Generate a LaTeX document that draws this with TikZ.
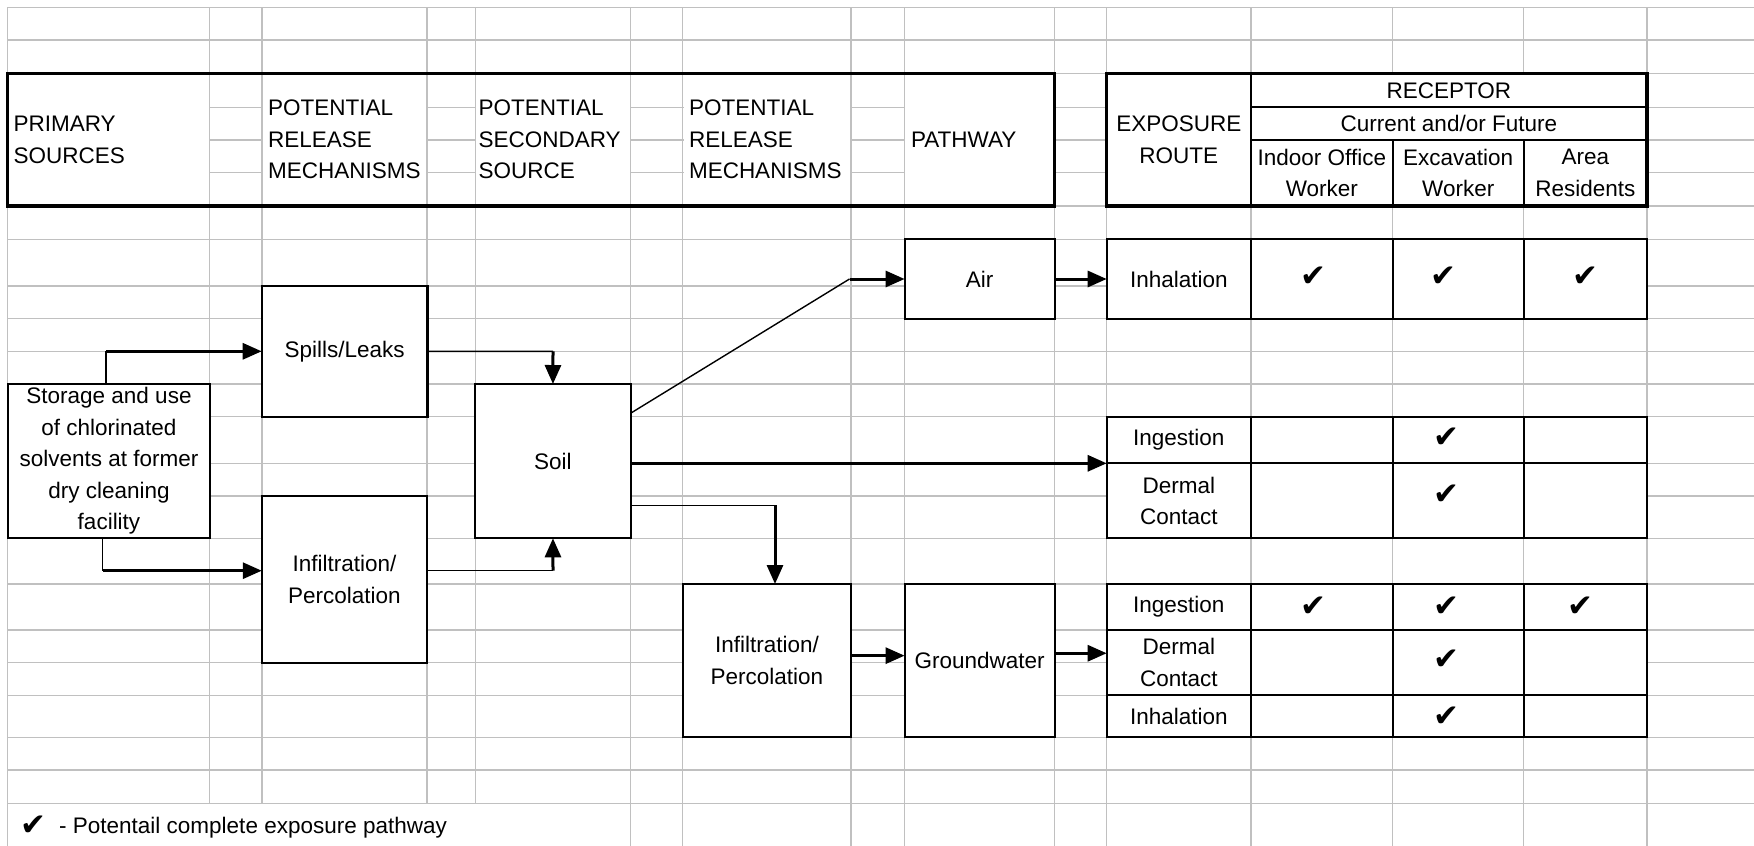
\documentclass[tikz,border=0pt]{standalone}
\usepackage{fontspec}
\setmainfont{Liberation Sans}
\newfontfamily\chkfamily{DejaVu Sans}
\usetikzlibrary{arrows.meta}
\definecolor{gridgray}{HTML}{C0C0C0}
\newcommand\dtxt{\fontsize{22.5}{31.5}\selectfont}
\newcommand\chkfont{\chkfamily\fontsize{31}{31}\selectfont}
\newcommand\mkbox[7]{%
  \pgfmathsetmacro\cellW{#5-#3}\pgfmathsetmacro\cellH{#6-#4}%
  \pgfmathsetmacro\cellX{(#3+#5)/2}\pgfmathsetmacro\cellY{(#4+#6)/2}%
  \node[#1, minimum width=\cellW pt, minimum height=\cellH pt] (#2) at (\cellX,\cellY) {#7};}
\tikzset{
  gridline/.style={draw=gridgray, line width=1.5pt},
  fbox/.style={draw, fill=white, line width=2.2pt, inner sep=0pt, outer sep=0pt, align=center, font=\dtxt},
  cell/.style={draw, fill=white, line width=2pt, inner sep=0pt, outer sep=0pt, align=center, font=\dtxt},
  hdr/.style={inner sep=0pt, align=left, anchor=west, font=\dtxt},
  thinline/.style={line width=1.4pt},
  flowarrow/.style={line width=3pt, -{Triangle[length=19pt,width=16pt]}},
  chk/.style={font=\chkfont, inner sep=0pt},
  hdrbox/.style={line width=3.3pt}
}
\begin{document}
\begin{tikzpicture}[x=1pt,y=-1pt]
\useasboundingbox (0,0) rectangle (1754,846);
\fill[white] (0,0) rectangle (1754,846);
% spreadsheet grid
\foreach \gx in {7.7,209.7,261.8,427.1,475.3,630.6,682.7,851.1,904.6,1054.6,1106.7,1250.9,1392.7,1523.7,1646.9}
  \draw[gridline] (\gx,7.3) -- (\gx,846);
\foreach \gy in {7.3,40,73.3,107.3,140,172.7,206,239.3,286,318.7,351.3,384,416.7,463.3,496,538.3,584,630,662.7,695.3,737.3,770,803.3}
  \draw[gridline] (7.7,\gy) -- (1754,\gy);
% merged header cells
\foreach \ax/\bx in {7.7/209.7,261.8/427.1,475.3/630.6,682.7/851.1,904.6/1054.6}
  \fill[white] (\ax+0.8,74) rectangle (\bx-0.8,205.3);
% merged legend cell
\fill[white] (8.5,804.1) rectangle (629.8,846);
% header box 1
\draw[hdrbox] (7.7,73.3) rectangle (1054.6,206);
\node[hdr] (hPS) at (13.4,139.7) {PRIMARY\\SOURCES};
\node[hdr] (hPR1) at (268,139.7) {POTENTIAL\\RELEASE\\MECHANISMS};
\node[hdr] (hPSS) at (478.4,139.7) {POTENTIAL\\SECONDARY\\SOURCE};
\node[hdr] (hPR2) at (688.8,139.7) {POTENTIAL\\RELEASE\\MECHANISMS};
\node[hdr] (hPW) at (910.8,139.7) {PATHWAY};
% header box 2
\mkbox{cell}{expo}{1106.7}{73.3}{1250.9}{206}{EXPOSURE\\ROUTE}
\mkbox{cell}{recep}{1250.9}{73.3}{1646.9}{107.3}{RECEPTOR}
\mkbox{cell}{curr}{1250.9}{107.3}{1646.9}{140}{Current and/or Future}
\mkbox{cell}{indoor}{1250.9}{140}{1392.7}{206}{Indoor Office\\Worker}
\mkbox{cell}{excav}{1392.7}{140}{1523.7}{206}{Excavation\\Worker}
\mkbox{cell}{area}{1523.7}{140}{1646.9}{206}{Area\\Residents}
\draw[hdrbox] (1106.7,73.3) rectangle (1646.9,206);
% flow boxes
\mkbox{fbox}{storage}{8}{384}{210}{538.3}{Storage and use\\of chlorinated\\solvents at former\\dry cleaning\\facility}
\mkbox{fbox}{spills}{261.7}{286}{427.5}{416.7}{Spills/Leaks}
\mkbox{fbox}{infil1}{261.8}{496}{427.1}{662.7}{Infiltration/\\Percolation}
\mkbox{fbox}{soil}{475.3}{384}{630.6}{538.3}{Soil}
\mkbox{fbox}{air}{904.6}{239.3}{1054.6}{318.7}{Air}
\mkbox{fbox}{infil2}{682.7}{584}{851.1}{737.3}{Infiltration/\\Percolation}
\mkbox{fbox}{gw}{904.6}{584}{1054.6}{737.3}{Groundwater}
% exposure tables
\mkbox{cell}{inh}{1106.7}{239.3}{1250.9}{318.7}{Inhalation}
\mkbox{cell}{inhB}{1250.9}{239.3}{1392.7}{318.7}{}
\mkbox{cell}{inhC}{1392.7}{239.3}{1523.7}{318.7}{}
\mkbox{cell}{inhD}{1523.7}{239.3}{1646.9}{318.7}{}
\mkbox{cell}{ing1}{1106.7}{416.7}{1250.9}{463.3}{Ingestion}
\mkbox{cell}{ing1B}{1250.9}{416.7}{1392.7}{463.3}{}
\mkbox{cell}{ing1C}{1392.7}{416.7}{1523.7}{463.3}{}
\mkbox{cell}{ing1D}{1523.7}{416.7}{1646.9}{463.3}{}
\mkbox{cell}{der1}{1106.7}{463.3}{1250.9}{538.3}{Dermal\\Contact}
\mkbox{cell}{der1B}{1250.9}{463.3}{1392.7}{538.3}{}
\mkbox{cell}{der1C}{1392.7}{463.3}{1523.7}{538.3}{}
\mkbox{cell}{der1D}{1523.7}{463.3}{1646.9}{538.3}{}
\mkbox{cell}{ing2}{1106.7}{584}{1250.9}{630}{Ingestion}
\mkbox{cell}{ing2B}{1250.9}{584}{1392.7}{630}{}
\mkbox{cell}{ing2C}{1392.7}{584}{1523.7}{630}{}
\mkbox{cell}{ing2D}{1523.7}{584}{1646.9}{630}{}
\mkbox{cell}{der2}{1106.7}{630}{1250.9}{695.3}{Dermal\\Contact}
\mkbox{cell}{der2B}{1250.9}{630}{1392.7}{695.3}{}
\mkbox{cell}{der2C}{1392.7}{630}{1523.7}{695.3}{}
\mkbox{cell}{der2D}{1523.7}{630}{1646.9}{695.3}{}
\mkbox{cell}{inh2}{1106.7}{695.3}{1250.9}{737.3}{Inhalation}
\mkbox{cell}{inh2B}{1250.9}{695.3}{1392.7}{737.3}{}
\mkbox{cell}{inh2C}{1392.7}{695.3}{1523.7}{737.3}{}
\mkbox{cell}{inh2D}{1523.7}{695.3}{1646.9}{737.3}{}
% check marks
\node[chk] (k1) at (1313,277) {✔};
\node[chk] (k2) at (1443,277) {✔};
\node[chk] (k3) at (1585,277) {✔};
\node[chk] (k4) at (1446,438) {✔};
\node[chk] (k5) at (1446,495) {✔};
\node[chk] (k6) at (1313,607) {✔};
\node[chk] (k7) at (1446,607) {✔};
\node[chk] (k8) at (1580,607) {✔};
\node[chk] (k9) at (1446,660) {✔};
\node[chk] (k10) at (1446,717) {✔};
% connectors
\coordinate (b1) at (106,351.3);
\draw[thinline] (storage.north -| b1) -- (b1);
\draw[flowarrow] (b1) -- (b1 -| spills.west);
\coordinate (b2) at (102.7,570.7);
\draw[thinline] (storage.south -| b2) -- (b2);
\draw[flowarrow] (b2) -- (b2 -| infil1.west);
\coordinate (b3) at (553,351.3);
\draw[thinline] (spills.east) -- (b3);
\draw[flowarrow] (b3) -- (soil.north);
\coordinate (b4) at (553,570.7);
\draw[thinline] (b4 -| infil1.east) -- (b4);
\draw[flowarrow] (b4) -- (soil.south);
\coordinate (s5) at ([yshift=47.9pt]soil.east);
\coordinate (b5) at (849.5,279);
\draw[thinline] (s5) -- (b5);
\draw[flowarrow] (b5) -- (b5 -| air.west);
\draw[flowarrow] (air.east) -- (inh.west);
\draw[flowarrow] (soil.east |- ing1.south west) -- (ing1.south west);
\coordinate (b6) at (775,505.3);
\draw[thinline] (b6 -| soil.east) -- (b6);
\draw[flowarrow] (b6) -- (b6 |- infil2.north);
\coordinate (s7) at ([yshift=5pt]infil2.east);
\draw[flowarrow] (s7) -- (s7 -| gw.west);
\coordinate (s8) at ([yshift=7.4pt]gw.east);
\draw[flowarrow] (s8) -- (s8 -| der2.west);
% legend
\node[chk] (lgk) at (33.6,826) {✔};
\node[anchor=base west, inner sep=0pt, font=\dtxt] (lgt) at (59,833) {- Potentail complete exposure pathway};
\end{tikzpicture}
\end{document}
